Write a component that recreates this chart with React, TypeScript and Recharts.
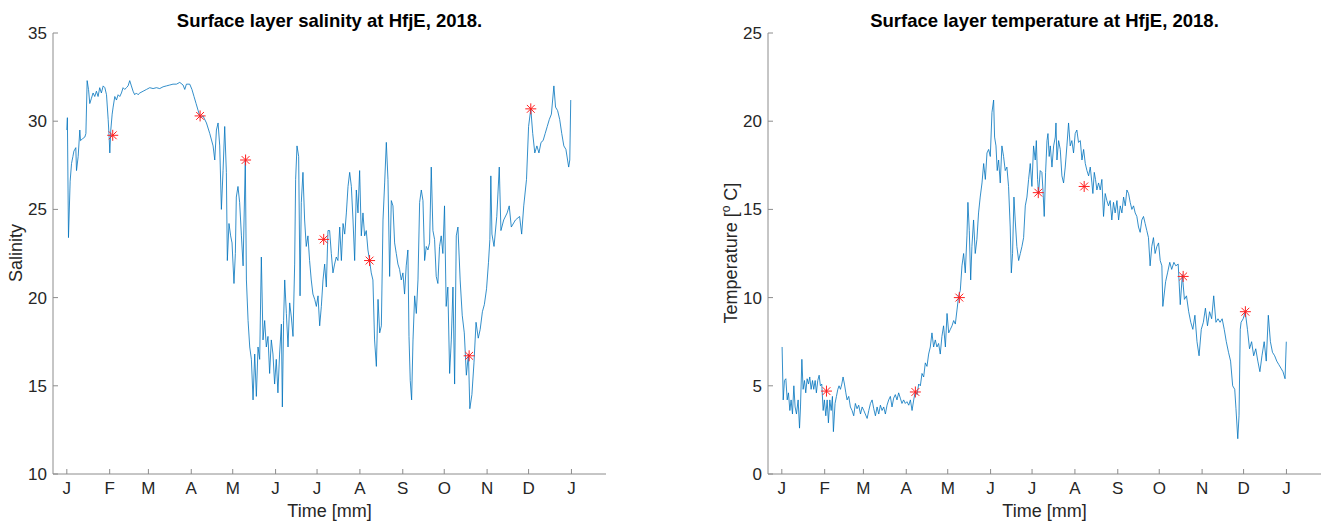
import React from "react"
import { ComposedChart, Line, Scatter, XAxis, YAxis } from "recharts"

// month starts (day of year) and their tick letters
const monthDays = [0, 31, 59, 90, 120, 151, 181, 212, 243, 273, 304, 334, 365]
const monthLabels = ["J", "F", "M", "A", "M", "J", "J", "A", "S", "O", "N", "D", "J"]

const salinityTicks = [10, 15, 20, 25, 30, 35]
const temperatureTicks = [0, 5, 10, 15, 20, 25]

// surface salinity (day of year, value)
const salinityDays = [
  0, 0.4, 1.2, 2.4, 3.4, 4.4, 5.1, 6.5, 7, 8.2, 9.4, 9.9, 11.3, 13, 13.8, 14.7, 15.7, 16.6, 17.8, 19,
  20.2, 21.4, 22.6, 23.8, 25, 26.3, 27.5, 28.7, 29.9, 30.6, 31.1, 31.8, 32.8, 33.5, 34.7, 35.9, 37.1, 38.3, 39.5, 40.7,
  41.9, 43.1, 44.3, 45.5, 46.7, 47.9, 49.1, 50.3, 51.5, 52.8, 55.2, 57.6, 60, 62.4, 64.8, 67.2, 69.6, 72, 74.4, 76.8,
  79.3, 81.7, 84.1, 85.3, 86.5, 88.9, 90.5, 92, 93.5, 95, 96.5, 98.5, 101, 103.4, 105.8, 107, 108.2, 109.4, 110.6, 111.8,
  113, 114.2, 115.4, 116.1, 117.3, 118.5, 119.5, 120.9, 121.9, 122.6, 123.8, 125, 126.3, 127.5, 129.1, 129.9, 131.1, 132.3, 133.5, 134.7,
  135.9, 137.1, 138.3, 139.5, 140.7, 141.9, 143.1, 144.3, 145.5, 146.7, 147.9, 149.1, 150.3, 151.5, 152.7, 153.9, 155.2, 155.9, 156.8, 157.6,
  158.8, 160, 161.2, 162.4, 163.6, 164.8, 165.5, 166.5, 167.7, 168.7, 169.6, 170.8, 172, 173.2, 174.4, 175.6, 176.8, 178, 179.3, 180.5,
  181.7, 182.9, 184.1, 185.3, 186.5, 187.7, 188.9, 190.1, 191.3, 192.5, 193.7, 194.9, 196.1, 197.4, 198.6, 199.8, 201, 202.2, 203.4, 204.6,
  205.8, 207, 208.2, 209.4, 210.6, 211.8, 213, 214.2, 215.4, 216.6, 217.8, 219, 220.2, 221.4, 222.6, 223.9, 225.1, 226.3, 227.5, 228.7,
  229.9, 231.1, 232.3, 233.5, 234.7, 235.9, 237.1, 238.3, 239.5, 240.7, 241.9, 243.1, 244.3, 245.5, 246.7, 247.5, 248.4, 249.4, 250.4, 251.6,
  252.8, 254, 255.2, 256.4, 257.6, 258.8, 260, 261.2, 262.4, 263.6, 264.8, 266, 267.2, 268.4, 269.6, 270.8, 272, 273.2, 274.4, 275.6,
  276.9, 278.1, 279.3, 280.5, 281.7, 282.9, 284.5, 286, 287.5, 289, 290.5, 291.5, 293, 294.5, 296, 297.6, 299, 300.6, 302, 303.6,
  305, 306, 306.7, 307.5, 309, 311, 312.8, 314, 316, 318.5, 320, 321.5, 324.5, 327.5, 329, 330.5, 332.5, 334, 335.6, 337,
  338.5, 340, 341.5, 343, 344.5, 346, 347.5, 349, 350.5, 352.3, 353.5, 355, 356.5, 358, 359.5, 361, 363, 363.8, 364.5,
]
const salinityValues = [
  29.5, 30.2, 23.4, 26.6, 27.6, 28.0, 28.3, 28.5, 27.2, 28.0, 29.5, 28.9, 29.0, 29.1, 29.3, 32.3, 31.8, 31.0, 31.3, 31.6,
  31.4, 31.7, 31.4, 31.9, 31.6, 32.0, 31.9, 31.5, 30.1, 29.1, 28.2, 29.5, 30.4, 30.8, 31.4, 31.2, 31.5, 31.4, 31.6, 31.9,
  31.8, 31.9, 32.0, 32.3, 32.0, 31.7, 31.5, 31.6, 31.5, 31.6, 31.7, 31.8, 31.9, 31.85, 31.9, 31.85, 31.95, 32.0, 32.05, 32.1,
  32.1, 32.2, 32.05, 31.8, 32.1, 32.1, 31.8, 31.4, 31.0, 30.6, 30.2, 30.3, 29.9, 29.3, 28.6, 27.8, 29.5, 29.9, 28.6, 25.0,
  27.2, 29.7, 27.1, 22.1, 24.2, 23.5, 23.1, 20.8, 22.5, 25.7, 26.3, 25.4, 23.5, 21.8, 27.8, 21.0, 18.7, 17.2, 16.5, 14.2,
  16.8, 14.4, 17.2, 16.5, 22.3, 17.6, 18.7, 17.2, 17.8, 15.7, 17.6, 16.8, 15.1, 16.5, 14.6, 16.8, 18.5, 13.8, 18.7, 21.0,
  19.1, 17.2, 19.7, 18.9, 17.8, 21.9, 26.7, 28.6, 28.0, 20.1, 25.4, 27.1, 24.4, 22.9, 23.5, 22.1, 21.0, 20.2, 19.9, 19.5,
  20.1, 18.4, 19.5, 21.0, 21.9, 20.6, 23.8, 23.8, 22.5, 21.4, 21.9, 22.3, 22.1, 24.0, 22.1, 24.2, 23.6, 24.8, 26.3, 27.1,
  26.3, 24.4, 22.1, 26.1, 24.8, 27.2, 23.5, 24.8, 23.5, 23.8, 22.7, 22.1, 21.4, 21.0, 17.6, 16.1, 19.9, 18.0, 18.4, 24.4,
  26.5, 28.8, 26.7, 21.2, 25.5, 25.2, 23.1, 22.5, 21.9, 21.6, 21.0, 21.4, 20.2, 21.8, 22.7, 17.8, 15.3, 14.2, 17.6, 20.1,
  19.1, 21.0, 25.4, 26.1, 25.5, 22.1, 22.9, 22.7, 23.1, 27.4, 23.8, 23.3, 21.2, 20.8, 22.9, 23.5, 22.5, 25.2, 19.5, 20.6,
  15.7, 17.6, 20.6, 15.1, 23.5, 24.0, 21.0, 19.0, 18.0, 15.6, 16.8, 13.7, 14.5, 16.3, 18.6, 17.7, 18.2, 19.2, 19.6, 20.5,
  22.0, 23.3, 26.9, 23.6, 22.9, 24.6, 27.4, 23.8, 24.4, 24.8, 25.2, 24.0, 24.4, 24.6, 23.6, 25.2, 26.7, 29.7, 30.7, 29.3,
  28.2, 28.6, 28.2, 28.8, 28.9, 29.3, 29.7, 30.1, 30.4, 32.0, 30.8, 30.6, 30.1, 29.3, 28.6, 28.4, 27.4, 27.8, 31.2,
]
const salinityStarDays = [33.2, 96.4, 129.3, 185.8, 219.0, 291.0, 335.6]
const salinityStarValues = [29.2, 30.3, 27.8, 23.3, 22.1, 16.7, 30.7]

// surface temperature (day of year, value)
const temperatureDays = [
  0.2, 1, 1.9, 2.9, 3.9, 4.8, 5.8, 6.7, 7.7, 8.7, 9.6, 10.6, 11.8, 12.8, 13.5, 14.5, 15.4, 16.4, 17.3, 18.3,
  19.3, 20.2, 21.2, 22.2, 23.1, 24.1, 25, 26, 27, 27.9, 28.9, 29.9, 30.8, 31.8, 32.8, 33.7, 34.7, 35.7, 36.6, 37.3,
  38.5, 39.5, 40.5, 41.4, 42.4, 43.4, 44.3, 45.3, 46.3, 47.2, 48.4, 49.6, 50.8, 52, 53.2, 54.4, 55.6, 56.9, 58.1, 59.3,
  61.7, 62.9, 64.1, 65.3, 66.5, 67.7, 68.9, 70.1, 71.3, 72.5, 73.7, 74.9, 76.1, 77.3, 78.5, 79.7, 80.9, 82.1, 83.3, 84.5,
  85.7, 86.9, 88.1, 89.3, 90.5, 91.8, 93, 94.2, 95.4, 96.6, 97.8, 99, 100.2, 101.4, 102.6, 103.8, 105, 106.2, 107.4, 108.6,
  109.8, 111, 112.2, 113.4, 114.6, 115.8, 117, 118.3, 119.5, 120.7, 121.9, 123.1, 124.3, 125.5, 126.7, 127.9, 129.1, 130.3, 131.5, 132.7,
  133.9, 134.6, 135.6, 136.6, 137.5, 138.7, 139.9, 141.1, 142.3, 143.5, 144.8, 146, 147.2, 148.4, 149.6, 150.8, 152, 153.2, 153.9, 154.9,
  155.8, 156.8, 158, 159.2, 160.4, 161.6, 162.8, 164, 165.2, 166, 166.9, 167.9, 168.8, 170, 171.3, 172.5, 173.7, 174.9, 176.1, 177.3,
  178.5, 179.7, 180.9, 182.1, 183.3, 184.1, 185, 185.7, 186.9, 188.1, 188.9, 189.8, 190.8, 191.8, 192.5, 193.4, 194.2, 195.4, 196.6, 197.8,
  198.3, 199, 200.2, 201.4, 202.6, 203.8, 205, 206.2, 207.4, 208.6, 209.8, 211, 212.2, 213.4, 214.6, 215.9, 217.1, 218.3, 219.5, 220.7,
  221.9, 223.1, 224.3, 225, 226, 226.9, 227.9, 229.1, 230.3, 231.5, 232.7, 233.9, 235.1, 236.3, 237.5, 238.7, 239.9, 241.1, 242.4, 243.6,
  244.8, 246, 247.2, 248.4, 249.6, 250.8, 252, 253.2, 254.4, 255.6, 256.8, 258, 259.2, 260.4, 261.6, 262.8, 264, 265.2, 266.4, 267.6,
  268.8, 270, 271.3, 272.5, 273.7, 274.9, 275.6, 277.6, 279, 280.6, 282, 283.6, 285, 286.7, 288.2, 289.7, 291.2, 292.7, 294.3, 295.8,
  297.3, 298.8, 300.3, 301.8, 303.4, 304.9, 306.4, 307.9, 309.4, 310.9, 312.4, 314, 315.5, 317, 318.5, 320, 321.5, 323.1, 324.6, 326.1,
  327.6, 328.5, 329.8, 330.7, 331.6, 332.2, 333.7, 335.2, 336.8, 338.3, 339.8, 341.3, 342.8, 344.3, 345.8, 347.3, 348.9, 350.4, 351.9, 353.4,
  354.9, 356.5, 358, 359.5, 361, 362.5, 364, 364.9,
]
const temperatureValues = [
  7.2, 4.2, 5.3, 5.4, 4.2, 4.6, 3.6, 4.2, 3.4, 5.0, 3.8, 3.4, 4.2, 2.6, 3.8, 6.5, 4.8, 5.3, 4.6, 5.4,
  5.1, 5.5, 4.8, 5.3, 4.8, 5.3, 4.6, 5.3, 5.6, 5.0, 5.1, 3.6, 4.2, 3.3, 4.2, 2.9, 4.2, 3.6, 4.4, 2.4,
  4.0, 4.4, 4.8, 5.0, 4.8, 5.1, 5.5, 5.1, 4.6, 4.2, 4.4, 3.8, 3.6, 3.3, 4.0, 3.7, 3.9, 3.4, 3.8, 3.6,
  3.15, 3.6, 4.0, 4.2, 3.7, 3.3, 3.8, 3.4, 3.9, 3.6, 3.8, 3.4, 3.9, 4.2, 4.4, 3.8, 4.3, 4.5, 4.2, 4.6,
  4.3, 4.0, 4.2, 4.0, 4.1, 3.9, 4.2, 3.6, 4.2, 4.7, 4.5, 5.1, 5.0, 5.7, 5.5, 6.3, 6.1, 6.8, 7.2, 8.0,
  7.2, 7.6, 7.2, 7.4, 6.8, 7.8, 8.4, 7.2, 9.1, 8.0, 8.2, 8.4, 8.7, 8.5, 9.3, 10.1, 10.4, 11.8, 12.5, 11.4,
  13.5, 15.4, 13.8, 11.0, 12.9, 14.4, 12.5, 13.3, 14.8, 15.7, 16.5, 17.6, 16.7, 18.2, 18.4, 18.0, 20.5, 21.2, 19.1, 18.6,
  17.2, 17.8, 16.5, 18.6, 18.0, 17.2, 17.4, 16.3, 14.0, 11.4, 12.5, 15.7, 14.4, 12.9, 12.1, 12.5, 12.9, 13.4, 15.2, 15.7,
  16.7, 17.6, 16.3, 18.6, 17.8, 18.9, 16.7, 15.9, 17.2, 17.1, 16.1, 14.6, 17.1, 18.9, 19.3, 18.0, 18.6, 17.4, 18.6, 19.1,
  19.9, 17.8, 18.9, 18.4, 16.9, 16.5, 17.4, 18.6, 19.9, 18.6, 18.9, 18.2, 19.3, 19.5, 18.8, 18.9, 17.8, 18.4, 17.6, 17.2,
  16.9, 17.4, 16.5, 15.9, 17.1, 16.7, 16.1, 16.5, 16.1, 16.7, 14.6, 15.9, 15.5, 15.2, 15.5, 14.4, 15.4, 14.8, 15.5, 14.4,
  15.2, 14.8, 15.7, 15.2, 16.1, 15.9, 15.4, 15.0, 15.2, 14.8, 14.6, 14.0, 13.7, 14.4, 14.6, 14.2, 13.8, 13.4, 11.8, 12.9,
  13.4, 12.5, 12.9, 13.1, 12.1, 11.8, 9.5, 10.9, 11.4, 12.0, 11.6, 12.0, 11.8, 11.9, 9.6, 11.3, 9.9, 10.1, 9.2, 8.6,
  8.2, 9.0, 7.5, 6.7, 8.2, 8.6, 9.4, 8.4, 9.2, 8.8, 10.1, 8.6, 8.8, 8.6, 8.8, 8.2, 7.5, 6.9, 6.4, 5.0,
  4.8, 3.7, 2.0, 3.3, 8.2, 8.6, 8.8, 9.2, 8.2, 7.1, 7.5, 6.7, 7.1, 6.4, 5.8, 6.7, 7.5, 6.4, 9.0, 7.5,
  6.9, 6.7, 6.4, 6.2, 6.0, 5.8, 5.4, 7.5,
]
const temperatureStarDays = [32.3, 96.6, 128.4, 185.5, 218.7, 290.3, 335.3]
const temperatureStarValues = [4.7, 4.65, 10.0, 15.95, 16.3, 11.2, 9.2]

const FONT = "'Liberation Sans', Arial, Helvetica, sans-serif"
const TEXT = "#262626"
const AXIS = "#8c8c8c"
const LINE = "#0072BD"
const STAR = "#ff1f1f"
const X_DOMAIN = [-10, 390]

const toPoints = (days: number[], values: number[]) => days.map((d, i) => ({ d, v: values[i] }))

function BottomTick({ x, y, payload }: any) {
  return (
    <g>
      <line x1={x} x2={x} y1={y} y2={y - 5} stroke={AXIS} />
      <text x={x} y={y + 20} textAnchor="middle" fontSize={17} fill={TEXT} fontFamily={FONT}>
        {monthLabels[monthDays.indexOf(payload.value)]}
      </text>
    </g>
  )
}

function TopTick({ x, y }: any) {
  return <line x1={x} x2={x} y1={y} y2={y + 5} stroke={AXIS} />
}

function LeftTick({ x, y, payload }: any) {
  return (
    <g>
      <line x1={x} x2={x + 5} y1={y} y2={y} stroke={AXIS} />
      <text x={x - 6} y={y + 6} textAnchor="end" fontSize={17} fill={TEXT} fontFamily={FONT}>
        {payload.value}
      </text>
    </g>
  )
}

function RightTick({ x, y }: any) {
  return <line x1={x} x2={x - 5} y1={y} y2={y} stroke={AXIS} />
}

function Star({ cx, cy }: any) {
  const r = 5.5
  const k = 3.9
  return (
    <g stroke={STAR} strokeWidth={1}>
      <line x1={cx - r} x2={cx + r} y1={cy} y2={cy} />
      <line x1={cx} x2={cx} y1={cy - r} y2={cy + r} />
      <line x1={cx - k} x2={cx + k} y1={cy - k} y2={cy + k} />
      <line x1={cx - k} x2={cx + k} y1={cy + k} y2={cy - k} />
    </g>
  )
}

interface PanelProps {
  width: number
  axisWidth: number
  rightMargin: number
  line: { d: number; v: number }[]
  stars: { d: number; v: number }[]
  yTicks: number[]
}

function Panel({ width, axisWidth, rightMargin, line, stars, yTicks }: PanelProps) {
  const yDomain = [yTicks[0], yTicks[yTicks.length - 1]]
  return (
    <ComposedChart width={width} height={524} margin={{ top: 33, right: rightMargin, bottom: 0, left: 0 }}>
      <XAxis
        dataKey="d"
        type="number"
        domain={X_DOMAIN}
        ticks={monthDays}
        interval={0}
        height={50}
        tickSize={0}
        tickMargin={0}
        stroke={AXIS}
        tick={<BottomTick />}
        allowDataOverflow
      />
      <XAxis
        xAxisId="top"
        orientation="top"
        dataKey="d"
        type="number"
        domain={X_DOMAIN}
        ticks={monthDays}
        interval={0}
        height={0}
        tickSize={0}
        tickMargin={0}
        stroke={AXIS}
        tick={<TopTick />}
        allowDataOverflow
      />
      <YAxis
        type="number"
        domain={yDomain}
        ticks={yTicks}
        interval={0}
        width={axisWidth}
        tickSize={0}
        tickMargin={0}
        stroke={AXIS}
        tick={<LeftTick />}
        allowDataOverflow
      />
      <YAxis
        yAxisId="right"
        orientation="right"
        type="number"
        domain={yDomain}
        ticks={yTicks}
        interval={0}
        width={0}
        tickSize={0}
        tickMargin={0}
        stroke={AXIS}
        tick={<RightTick />}
        allowDataOverflow
      />
      <Line
        data={line}
        dataKey="v"
        type="linear"
        stroke={LINE}
        strokeWidth={0.8}
        dot={false}
        isAnimationActive={false}
      />
      <Scatter data={stars} dataKey="v" shape={<Star />} isAnimationActive={false} />
    </ComposedChart>
  )
}

export default function App() {
  const salinity = toPoints(salinityDays, salinityValues)
  const salinityStars = toPoints(salinityStarDays, salinityStarValues)
  const temperature = toPoints(temperatureDays, temperatureValues)
  const temperatureStars = toPoints(temperatureStarDays, temperatureStarValues)

  return (
    <div style={{ position: "relative", width: 1327, height: 524, background: "#fff" }}>
      <style>{"body{margin:0}"}</style>
      <div style={{ position: "absolute", left: 0, top: 0 }}>
        <Panel width={667} axisWidth={53} rightMargin={61} line={salinity} stars={salinityStars} yTicks={salinityTicks} />
      </div>
      <div style={{ position: "absolute", left: 667, top: 0 }}>
        <Panel
          width={660}
          axisWidth={101}
          rightMargin={6}
          line={temperature}
          stars={temperatureStars}
          yTicks={temperatureTicks}
        />
      </div>
      <svg
        width={1327}
        height={524}
        style={{ position: "absolute", left: 0, top: 0, pointerEvents: "none" }}
        fontFamily={FONT}
      >
        <text x={329.5} y={27} textAnchor="middle" fontSize={18.5} fontWeight="bold" fill="#000">
          Surface layer salinity at HfjE, 2018.
        </text>
        <text x={1044.5} y={27} textAnchor="middle" fontSize={18.5} fontWeight="bold" fill="#000">
          Surface layer temperature at HfjE, 2018.
        </text>
        <text x={329.5} y={517} textAnchor="middle" fontSize={18} fill={TEXT}>
          Time [mm]
        </text>
        <text x={1044.5} y={517} textAnchor="middle" fontSize={18} fill={TEXT}>
          Time [mm]
        </text>
        <text x={22} y={253} textAnchor="middle" fontSize={18} fill={TEXT} transform="rotate(-90 22 253)">
          Salinity
        </text>
        <text x={737} y={253} textAnchor="middle" fontSize={18} fill={TEXT} transform="rotate(-90 737 253)">
          Temperature [
          <tspan fontSize={12} dy={-7}>o</tspan>
          <tspan dy={7}> C]</tspan>
        </text>
      </svg>
    </div>
  )
}
